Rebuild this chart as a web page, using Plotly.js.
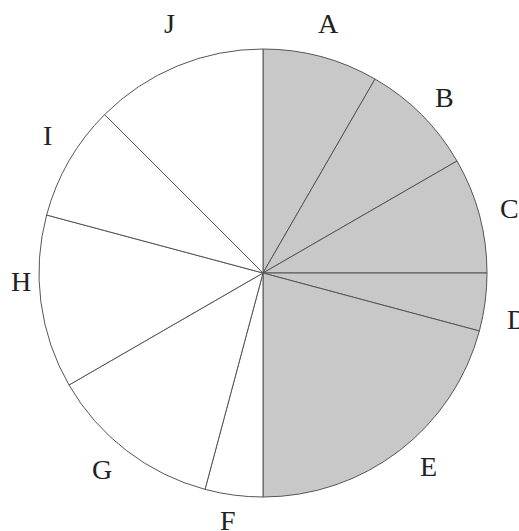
<!DOCTYPE html>
<html>
<head>
<meta charset="utf-8">
<script src="https://cdn.plot.ly/plotly-3.0.1.min.js"></script>
<style>
  html, body { margin: 0; padding: 0; background: #fff; }
  #chart { width: 519px; height: 531px; }
</style>
</head>
<body>
<div id="chart"></div>
<script>
const labels = ["A", "B", "C", "D", "E", "F", "G", "H", "I", "J"];
const values = [2, 2, 2, 1, 5, 1, 3, 3, 2, 3];
const sliceColors = ["#c8c8c8", "#c8c8c8", "#c8c8c8", "#c8c8c8", "#c8c8c8",
                     "#ffffff", "#ffffff", "#ffffff", "#ffffff", "#ffffff"];

const W = 519, H = 531;
const cx = 263, cy = 273, radius = 224, labelRadius = 255;

// small pixel nudges so the labels sit where the original placed them
const labelNudge = {
  A: [0, -3], B: [1, 5], C: [0, 1], D: [1, 13], E: [10, -9],
  F: [-2, -5], G: [-6, -6], H: [11, -25], I: [5, -10], J: [4, -14],
};

// label positions from the slice mid-angles (clockwise from 12 o'clock)
const total = values.reduce((a, b) => a + b, 0);
let cum = 0;
const annotations = labels.map((name, i) => {
  const mid = (cum + values[i] / 2) / total * 2 * Math.PI;
  cum += values[i];
  const nudge = labelNudge[name] || [0, 0];
  const px = cx + labelRadius * Math.sin(mid) + nudge[0];
  const py = cy - labelRadius * Math.cos(mid) + nudge[1];
  return {
    text: name,
    x: px / W,
    y: 1 - py / H,
    xref: "paper",
    yref: "paper",
    xanchor: "center",
    yanchor: "middle",
    showarrow: false,
    font: { family: "Liberation Serif, Times New Roman, serif", size: 28, color: "#222" },
  };
});

const traces = [
  {
    type: "pie",
    labels: labels,
    values: values,
    sort: false,
    direction: "clockwise",
    rotation: 0,
    textinfo: "none",
    hoverinfo: "none",
    marker: { colors: sliceColors, line: { color: "#555555", width: 1 } },
    domain: {
      x: [(cx - radius) / W, (cx + radius) / W],
      y: [1 - (cy + radius) / H, 1 - (cy - radius) / H],
    },
    showlegend: false,
  },
];

const layout = {
  width: W,
  height: H,
  margin: { l: 0, r: 0, t: 0, b: 0 },
  paper_bgcolor: "#ffffff",
  showlegend: false,
  annotations: annotations,
};

Plotly.newPlot("chart", traces, layout, { displayModeBar: false, staticPlot: true });
</script>
</body>
</html>
